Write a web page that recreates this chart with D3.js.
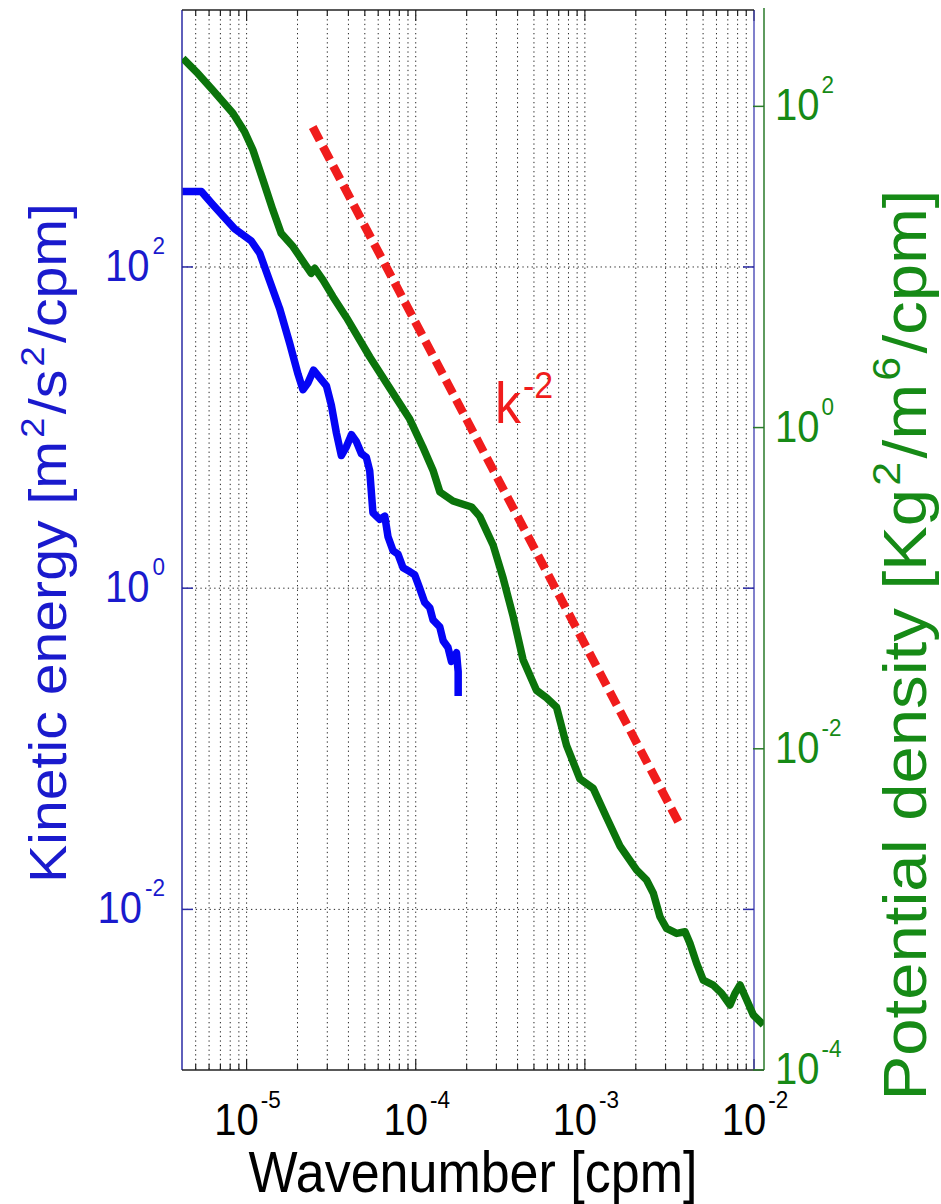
<!DOCTYPE html>
<html><head><meta charset="utf-8">
<script src="https://cdn.jsdelivr.net/npm/d3@7"></script>
<style>body{margin:0;background:#fff;} svg{display:block;}</style>
</head><body>
<svg id="chart" width="941" height="1204"></svg>
<script>
// ---------------- data ----------------
const kineticK = [4.17e-6, 5.40e-6, 6.32e-6, 8.49e-6, 1.067e-5, 1.194e-5, 1.368e-5, 1.567e-5, 1.795e-5, 2.014e-5,
  2.153e-5, 2.307e-5, 2.489e-5, 2.704e-5, 2.965e-5, 3.170e-5, 3.396e-5, 3.631e-5, 3.890e-5, 4.169e-5,
  4.457e-5, 4.775e-5, 5.105e-5, 5.346e-5, 5.585e-5, 6.124e-5, 6.561e-5, 6.855e-5, 7.345e-5, 7.852e-5,
  8.414e-5, 9.204e-5, 9.863e-5, 1.057e-4, 1.130e-4, 1.211e-4, 1.265e-4, 1.387e-4, 1.452e-4, 1.552e-4,
  1.626e-4, 1.742e-4, 1.782e-4, 1.782e-4];
const kineticE = [295, 295, 244, 173, 145, 122, 82.0, 55.2, 33.7, 21.5,
  17.2, 19.0, 22.8, 20.5, 18.2, 13.8, 9.25, 6.70, 7.59, 9.04,
  8.18, 6.87, 6.53, 5.37, 2.95, 2.68, 2.81, 2.09, 1.71, 1.63,
  1.34, 1.27, 1.21, 0.993, 0.815, 0.755, 0.635, 0.575, 0.471, 0.427,
  0.350, 0.396, 0.302, 0.213];

const potentialK = [4.20e-6, 5.04e-6, 6.32e-6, 8.30e-6, 9.73e-6, 1.09e-5, 1.25e-5, 1.43e-5, 1.60e-5, 1.88e-5,
  2.20e-5, 2.41e-5, 2.53e-5, 2.83e-5, 3.24e-5, 3.89e-5, 5.35e-5, 7.02e-5, 9.21e-5, 1.10e-4,
  1.27e-4, 1.39e-4, 1.66e-4, 2.14e-4, 2.39e-4, 2.87e-4, 3.29e-4, 3.77e-4, 4.31e-4, 5.18e-4,
  5.93e-4, 6.80e-4, 7.79e-4, 9.34e-4, 1.12e-3, 1.34e-3, 1.61e-3, 2.02e-3, 2.32e-3, 2.54e-3,
  2.78e-3, 3.04e-3, 3.49e-3, 3.91e-3, 4.18e-3, 4.58e-3, 5.01e-3, 5.74e-3, 6.44e-3, 7.21e-3,
  7.72e-3, 8.27e-3, 9.06e-3, 9.91e-3, 1.135e-2];
const potentialP = [199, 164, 126, 90.5, 69.5, 53.5, 34.8, 22.6, 16.2, 13.4,
  10.5, 9.13, 9.81, 8.29, 6.53, 4.85, 2.75, 1.76, 1.13, 0.759,
  0.536, 0.397, 0.349, 0.320, 0.280, 0.185, 0.115, 0.0665, 0.0359, 0.0231,
  0.0208, 0.01815, 0.0105, 0.0065, 0.00567, 0.00376, 0.00249, 0.00176, 0.00152, 0.00126,
  0.0009, 0.000762, 0.000709, 0.000726, 0.000615, 0.000461, 0.000363, 0.000338, 0.0003, 0.000254,
  0.0003, 0.000338, 0.000273, 0.00022, 0.000191];

// k^-2 reference line end points (right-axis units)
const refK = [2.46e-5, 3.65e-3];
const refP = [74.3, 3.35e-3];

const xTickValues = [1e-5, 1e-4, 1e-3, 1e-2];
const xTickExps = ["-5", "-4", "-3", "-2"];
const leftTickValues = [1e-2, 1, 1e2];
const leftTickExps = ["-2", "0", "2"];
const rightTickValues = [1e-4, 1e-2, 1, 1e2];
const rightTickExps = ["-4", "-2", "0", "2"];

const xLabel = "Wavenumber [cpm]";
const leftLabelParts = ["Kinetic energy [m", "2", "/s", "2", "/cpm]"];
const rightLabelParts = ["Potential density [Kg", "2", "/m", "6", "/cpm]"];
const refLabel = ["k", "-2"];

// ---------------- layout ----------------
const L = 182, R = 754, R2 = 764, T = 10, B = 1070;
const SY = 1.1;
const FONT = "'Liberation Sans', Arial, Helvetica, sans-serif";
const BLUE_TXT = "#1a1acd", GREEN_TXT = "#168a16";
const BLUE_LINE = "#0505f5", GREEN_LINE = "#0b740b", RED = "#f01c1c";

const svg = d3.select("#chart");
const x = d3.scaleLog().domain([4.15e-6, 1e-2]).range([L, R]);
const yL = d3.scaleLog().domain([1e-3, 3981]).range([B, T]);
const yR = d3.scaleLog().domain([1e-4, 398.1]).range([B, T]);

svg.append("defs").append("clipPath").attr("id", "clip")
  .append("rect").attr("x", L).attr("y", T).attr("width", R2 - L).attr("height", B - T);

// grid
const allX = x.ticks();
const isMajor = v => Math.abs(Math.log10(v) - Math.round(Math.log10(v))) < 1e-6;
const grid = svg.append("g").attr("stroke", "#262626").attr("stroke-width", 1)
  .attr("stroke-dasharray", "1.3,3.3");
grid.selectAll("line.v").data(allX.filter(v => x(v) > L + 1 && x(v) < R - 1)).join("line")
  .attr("x1", d => x(d)).attr("x2", d => x(d)).attr("y1", T).attr("y2", B);
grid.selectAll("line.h").data(leftTickValues).join("line")
  .attr("x1", L).attr("x2", R).attr("y1", d => yL(d)).attr("y2", d => yL(d));

// x ticks (bottom and top)
const tk = svg.append("g").attr("stroke", "#222").attr("stroke-width", 1.2);
allX.forEach(v => {
  const len = isMajor(v) ? 11 : 6;
  tk.append("line").attr("x1", x(v)).attr("x2", x(v)).attr("y1", B).attr("y2", B - len);
  tk.append("line").attr("x1", x(v)).attr("x2", x(v)).attr("y1", T).attr("y2", T + len);
});

// blue curve
const lineL = d3.line().x(d => x(d[0])).y(d => yL(d[1]));
svg.append("path").attr("clip-path", "url(#clip)")
  .attr("d", lineL(d3.zip(kineticK, kineticE)))
  .attr("fill", "none").attr("stroke", BLUE_LINE).attr("stroke-width", 7.5)
  .attr("stroke-linejoin", "round").attr("stroke-linecap", "butt");

// blue axes box
svg.append("line").attr("x1", L).attr("x2", L).attr("y1", T).attr("y2", B).attr("stroke", "#2a2aa5").attr("stroke-width", 1.5);
svg.append("line").attr("x1", R).attr("x2", R).attr("y1", T).attr("y2", B).attr("stroke", "#3c3cb0").attr("stroke-width", 1.3);
svg.append("line").attr("x1", L).attr("x2", R).attr("y1", T).attr("y2", T).attr("stroke", "#222").attr("stroke-width", 1.5);
leftTickValues.forEach(v => {
  svg.append("line").attr("x1", L).attr("x2", L + 11).attr("y1", yL(v)).attr("y2", yL(v)).attr("stroke", "#2a2aa5").attr("stroke-width", 1.5);
  svg.append("line").attr("x1", R).attr("x2", R - 11).attr("y1", yL(v)).attr("y2", yL(v)).attr("stroke", "#2a2aa5").attr("stroke-width", 1.5);
});

// green curve
const lineR = d3.line().x(d => x(d[0])).y(d => yR(d[1]));
svg.append("path").attr("clip-path", "url(#clip)")
  .attr("d", lineR(d3.zip(potentialK, potentialP)))
  .attr("fill", "none").attr("stroke", GREEN_LINE).attr("stroke-width", 7.5)
  .attr("stroke-linejoin", "round").attr("stroke-linecap", "butt");

// red k^-2 dashed line
svg.append("path")
  .attr("d", lineR(d3.zip(refK, refP)))
  .attr("fill", "none").attr("stroke", RED).attr("stroke-width", 8.5)
  .attr("stroke-dasharray", "15,7").attr("stroke-linecap", "butt");

// green axis + bottom line
svg.append("line").attr("x1", R2).attr("x2", R2).attr("y1", T - 2).attr("y2", B).attr("stroke", "#2a7a2a").attr("stroke-width", 1.5);
svg.append("line").attr("x1", L).attr("x2", R2).attr("y1", B).attr("y2", B).attr("stroke", "#222").attr("stroke-width", 1.5);
rightTickValues.forEach(v => {
  svg.append("line").attr("x1", R2).attr("x2", R2 - 11).attr("y1", yR(v)).attr("y2", yR(v)).attr("stroke", "#2a7a2a").attr("stroke-width", 1.5);
});

// ---------------- text ----------------
function richText(x0, y0, parts, opts) {
  const o = Object.assign({anchor: "start", fill: "#000", rotate: 0}, opts || {});
  const t = svg.append("text")
    .attr("transform", `translate(${x0},${y0}) scale(1,${SY})` + (o.rotate ? ` rotate(${o.rotate})` : ""))
    .attr("text-anchor", o.anchor).attr("fill", o.fill).style("font-family", FONT);
  let cur = 0;
  parts.forEach(p => {
    const off = -(p.rise || 0);
    const ts = t.append("tspan").text(p.t).attr("font-size", p.size);
    if (off !== cur) ts.attr("dy", off - cur);
    if (p.dx) ts.attr("dx", p.dx);
    cur = off;
  });
  return t;
}

const TICK = 40, SUP = 22.5, RISE = 24.5;
xTickValues.forEach((v, i) => {
  richText(x(v) + 1, 1135, [{t: "10", size: TICK}, {t: xTickExps[i], size: SUP, rise: RISE, dx: 2}], {anchor: "middle"});
});
leftTickValues.forEach((v, i) => {
  richText(165, yL(v) + 14, [{t: "10", size: TICK}, {t: leftTickExps[i], size: SUP, rise: RISE, dx: 3}], {anchor: "end", fill: BLUE_TXT});
});
rightTickValues.forEach((v, i) => {
  richText(775, yR(v) + 14, [{t: "10", size: TICK}, {t: rightTickExps[i], size: SUP, rise: RISE, dx: 2}], {anchor: "start", fill: GREEN_TXT});
});

richText(473, 1192, [{t: xLabel, size: 52}], {anchor: "middle"});

function labelParts(arr, size, sup, rise) {
  return arr.map((s, i) => i % 2 === 1 ? {t: s, size: sup, rise: rise, dx: 3} : {t: s, size: size, dx: i > 0 ? 3 : 0});
}
richText(66, 543, labelParts(leftLabelParts, 52, 33, 22), {anchor: "middle", fill: BLUE_TXT, rotate: -90});
richText(926, 645, labelParts(rightLabelParts, 61, 39, 26), {anchor: "middle", fill: GREEN_TXT, rotate: -90});

richText(495, 423, [{t: refLabel[0], size: 52}, {t: refLabel[1], size: 34, rise: 23, dx: 2}], {fill: RED});
</script>
</body></html>
